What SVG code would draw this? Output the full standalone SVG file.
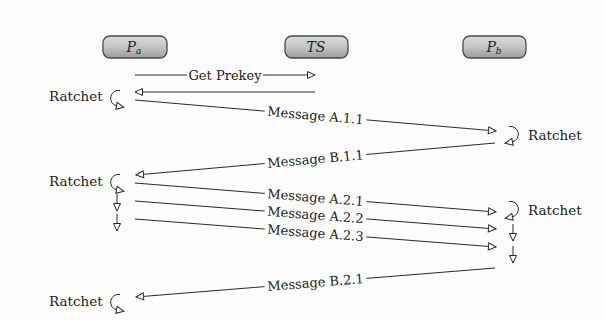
<svg xmlns="http://www.w3.org/2000/svg" width="604" height="320" viewBox="0 0 604 320">
<defs>
<linearGradient id="boxg" x1="0" y1="0" x2="0" y2="1">
<stop offset="0" stop-color="#dcdcdc"/>
<stop offset="0.5" stop-color="#c4c4c4"/>
<stop offset="1" stop-color="#9c9c9c"/>
</linearGradient>
<marker id="arr" markerUnits="userSpaceOnUse" markerWidth="12" markerHeight="12" refX="8" refY="4" orient="auto" overflow="visible">
<path d="M0.5,0.5 L8,4 L0.5,7.5 Z" fill="#fff" stroke="#2a2a2a" stroke-width="1"/>
</marker>
<marker id="rat" markerUnits="userSpaceOnUse" markerWidth="12" markerHeight="12" refX="1" refY="4" orient="auto" overflow="visible">
<path d="M0.5,0.5 L8,4 L0.5,7.5 Z" fill="#fff" stroke="#2a2a2a" stroke-width="1"/>
</marker>
</defs>
<rect width="604" height="320" fill="#fdfdfd"/>
<g font-family="DejaVu Serif" fill="#222">
<g fill="url(#boxg)" stroke="#4a4a4a" stroke-width="1.3">
<rect id="boxPa" x="103" y="36" width="64" height="22" rx="7"/>
<rect id="boxTS" x="285" y="36" width="63" height="22" rx="7"/>
<rect id="boxPb" x="463" y="36" width="63" height="22" rx="7"/>
</g>
<g font-style="italic" font-size="14" text-anchor="middle">
<g id="Pa"><text x="134" y="52">P<tspan font-size="9" dy="2">a</tspan></text></g>
<g id="TS"><text x="316" y="52">TS</text></g>
<g id="Pb"><text x="494" y="52">P<tspan font-size="9" dy="2">b</tspan></text></g>
</g>

<g id="connectors" font-size="13" text-anchor="middle">
<g fill="none" stroke="#2a2a2a" stroke-width="1" marker-end="url(#arr)">
<line x1="135" y1="75" x2="315" y2="75"/>
<line x1="315" y1="92" x2="135" y2="92"/>
<line x1="135" y1="100" x2="496" y2="131"/>
<line x1="495" y1="143" x2="136" y2="175"/>
<line x1="135" y1="183" x2="496" y2="212"/>
<line x1="135" y1="201" x2="496" y2="229"/>
<line x1="135" y1="219" x2="496" y2="247"/>
<line x1="495" y1="268" x2="136" y2="297"/>
<line x1="117" y1="194" x2="117" y2="211"/>
<line x1="117" y1="214" x2="117" y2="231"/>
<line x1="513" y1="224" x2="513" y2="241"/>
<line x1="513" y1="246" x2="513" y2="263"/>
</g>
<rect x="187" y="68" width="76" height="14" fill="#fdfdfd"/>
<text x="225" y="79.5">Get Prekey</text>
<g transform="translate(315.5,115.5) rotate(4.91)"><rect x="-51" y="-6" width="102" height="12" fill="#fdfdfd"/><text y="4.5">Message A.1.1</text></g>
<g transform="translate(315.5,159) rotate(-5.09)"><rect x="-51" y="-6" width="102" height="12" fill="#fdfdfd"/><text y="4.5">Message B.1.1</text></g>
<g transform="translate(315.5,197.5) rotate(4.59)"><rect x="-51" y="-6" width="102" height="12" fill="#fdfdfd"/><text y="4.5">Message A.2.1</text></g>
<g transform="translate(315.5,215) rotate(4.44)"><rect x="-51" y="-6" width="102" height="12" fill="#fdfdfd"/><text y="4.5">Message A.2.2</text></g>
<g transform="translate(315.5,233) rotate(4.44)"><rect x="-51" y="-6" width="102" height="12" fill="#fdfdfd"/><text y="4.5">Message A.2.3</text></g>
<g transform="translate(315.5,282.5) rotate(-4.62)"><rect x="-51" y="-6" width="102" height="12" fill="#fdfdfd"/><text y="4.5">Message B.2.1</text></g>
</g>

<g font-size="13.5">
<g id="ratchetA1"><text x="49" y="101">Ratchet</text><path d="M120,90.5 A7.5,7.5 0 1 0 117,106" fill="none" stroke="#2a2a2a" marker-end="url(#rat)"/></g>
<g id="ratchetA2"><text x="49" y="186">Ratchet</text><path d="M120,174.5 A7.5,7.5 0 1 0 117,190" fill="none" stroke="#2a2a2a" marker-end="url(#rat)"/></g>
<g id="ratchetA3"><text x="49" y="306">Ratchet</text><path d="M120,294.5 A7.5,7.5 0 1 0 117,310" fill="none" stroke="#2a2a2a" marker-end="url(#rat)"/></g>
<g id="ratchetB1"><text x="528" y="140">Ratchet</text><path d="M509,126.5 A7.5,7.5 0 1 1 512,142" fill="none" stroke="#2a2a2a" marker-end="url(#rat)"/></g>
<g id="ratchetB2"><text x="528" y="215">Ratchet</text><path d="M509,201.5 A7.5,7.5 0 1 1 512,217" fill="none" stroke="#2a2a2a" marker-end="url(#rat)"/></g>
</g>
</g>
</svg>
